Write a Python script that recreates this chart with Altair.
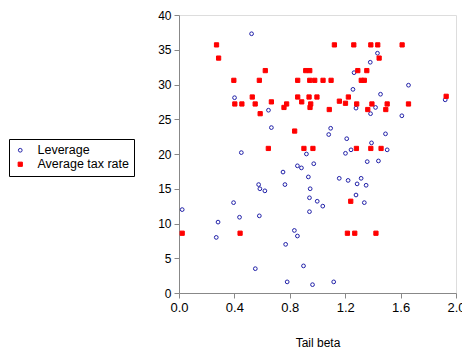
import altair as alt
import pandas as pd

series = ["Leverage", "Average tax rate"]

lev_beta = [0.524, 0.401, 0.646, 0.667, 0.450, 0.920, 0.973, 0.855, 0.884, 0.751,
            0.934, 0.575, 0.584, 0.620, 0.765, 0.947, 0.942, 0.998, 1.038, 0.023,
            0.394, 0.282, 0.437, 0.580, 0.942, 0.833, 0.855, 0.269, 0.770, 0.551,
            0.899, 0.781, 0.964, 1.117, 1.433, 1.381, 1.264, 1.256, 1.455, 1.657,
            1.922, 1.278, 1.419, 1.383, 1.609, 1.095, 1.081, 1.211, 1.491, 1.390,
            1.242, 1.503, 1.202, 1.359, 1.440, 1.157, 1.221, 1.315, 1.286, 1.351,
            1.278, 1.338]
lev_value = [37.3, 28.1, 26.3, 23.8, 20.2, 20.0, 18.6, 18.3, 18.0, 17.4,
             16.7, 15.6, 15.0, 14.7, 15.6, 15.0, 13.7, 13.2, 12.5, 12.0,
             13.0, 10.2, 10.9, 11.1, 11.7, 9.0, 8.2, 8.0, 7.0, 3.5,
             3.9, 1.6, 1.2, 1.6, 34.5, 33.2, 31.7, 29.3, 28.6, 29.9,
             27.8, 26.6, 26.7, 25.8, 25.5, 23.7, 22.8, 22.2, 22.9, 21.6,
             20.6, 20.6, 20.1, 18.9, 19.0, 16.5, 16.2, 16.5, 15.7, 15.5,
             14.1, 13.0]

tax_beta = [0.271, 0.286, 0.396, 0.580, 0.623, 0.915, 0.944, 0.857, 0.944, 0.980,
            0.529, 0.857, 0.939, 0.996, 0.403, 0.454, 0.550, 0.667, 0.758, 0.777,
            0.886, 0.946, 0.951, 0.586, 0.835, 0.645, 0.902, 0.967, 1.122, 1.262,
            1.385, 1.435, 1.611, 1.445, 1.291, 1.356, 1.040, 1.098, 1.316, 1.338,
            1.223, 1.158, 1.202, 1.283, 1.393, 1.503, 1.657, 1.929, 1.085, 1.363,
            1.493, 1.281, 1.385, 1.459, 1.240, 1.216, 1.269, 1.422, 0.023, 0.441]
tax_value = [35.7, 33.8, 30.6, 30.6, 32.0, 32.0, 32.0, 30.6, 30.6, 30.6,
             28.2, 28.2, 28.2, 28.2, 27.2, 27.2, 27.2, 27.5, 26.7, 27.2,
             27.5, 26.7, 27.2, 25.8, 23.3, 20.8, 20.8, 20.8, 35.7, 35.7,
             35.7, 35.7, 35.7, 33.8, 32.0, 32.0, 30.6, 30.6, 30.6, 30.6,
             28.2, 27.6, 27.3, 27.2, 27.2, 27.2, 27.2, 28.3, 26.4, 26.4,
             26.4, 20.8, 20.8, 20.8, 13.2, 8.6, 8.6, 8.6, 8.6, 8.6]

x_ticks = [0.0, 0.4, 0.8, 1.2, 1.6, 2.0]
y_ticks = [0, 5, 10, 15, 20, 25, 30, 35, 40]

df = pd.concat([
    pd.DataFrame({"beta": lev_beta, "value": lev_value, "series": series[0]}),
    pd.DataFrame({"beta": tax_beta, "value": tax_value, "series": series[1]}),
], ignore_index=True)

FONT = "Liberation Sans"

leg = alt.Legend(
    title=None, orient="none", legendX=-170, legendY=124,
    strokeColor="black", padding=5, labelOffset=11,
    labelFont=FONT, labelFontSize=12.5, labelColor="black", rowPadding=1,
    symbolStrokeWidth=1, labelLimit=200,
)

chart = alt.Chart(df).mark_point(strokeWidth=1, opacity=1).encode(
    x=alt.X("beta:Q",
            scale=alt.Scale(domain=[0, 2], nice=False, zero=False),
            axis=alt.Axis(title="Tail beta", values=x_ticks, format=".1f", grid=False,
                          tickSize=5, labelPadding=3, labelFontSize=13, labelFlush=False,
                          titlePadding=23, titleFontWeight="normal", titleFontSize=12)),
    y=alt.Y("value:Q",
            scale=alt.Scale(domain=[0, 40], nice=False),
            axis=alt.Axis(title=None, values=y_ticks, grid=False, labelFlush=False,
                          tickSize=5, labelPadding=3, labelFontSize=12)),
    color=alt.Color("series:N", scale=alt.Scale(domain=series, range=["#2020a8", "#ff0000"]), legend=leg),
    shape=alt.Shape("series:N", scale=alt.Scale(domain=series, range=["circle", "square"]), legend=leg),
    fill=alt.Fill("series:N", scale=alt.Scale(domain=series, range=["transparent", "#ff0000"]), legend=leg),
    size=alt.Size("series:N", scale=alt.Scale(domain=series, range=[14, 18]), legend=leg),
).properties(
    width=277, height=278,
    autosize=alt.AutoSizeParams(type="none"),
    padding={"left": 179, "top": 15, "right": 6, "bottom": 58},
).configure_view(
    stroke="black", strokeWidth=1
).configure_axis(
    domainColor="black", tickColor="black", labelColor="black", titleColor="black",
    labelFont=FONT, titleFont=FONT
).configure(background="white")

chart.save("out.html", embed_options={"renderer": "svg", "actions": False})
